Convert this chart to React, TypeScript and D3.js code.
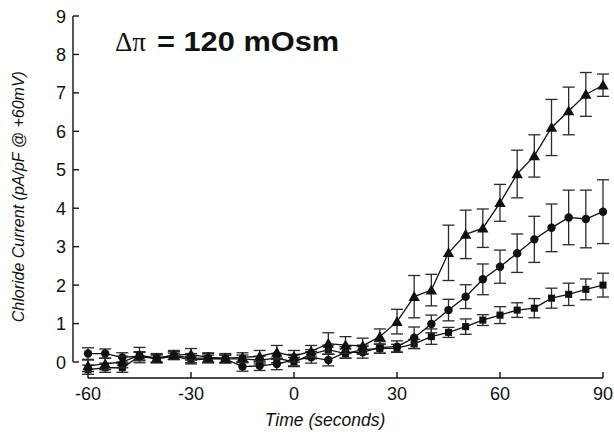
import React from "react";
import * as d3 from "d3";

// Sampling times (s), one recording every 5 s
const times = [
  -60, -55, -50, -45, -40, -35, -30, -25, -20, -15, -10, -5, 0, 5, 10, 15, 20, 25,
  30, 35, 40, 45, 50, 55, 60, 65, 70, 75, 80, 85, 90,
];

// Triangle series: mean and SEM
const triMean = [
  -0.1, -0.05, 0.0, 0.18, 0.1, 0.18, 0.2, 0.12, 0.1, 0.12, 0.15, 0.25, 0.15, 0.28, 0.48,
  0.44, 0.42, 0.66, 1.05, 1.7, 1.87, 2.84, 3.32, 3.48, 4.14, 4.89, 5.36, 6.1, 6.53, 6.96, 7.2,
];
const triErr = [
  0.15, 0.15, 0.15, 0.2, 0.12, 0.12, 0.15, 0.12, 0.12, 0.12, 0.15, 0.18, 0.15, 0.15, 0.28,
  0.22, 0.2, 0.2, 0.32, 0.55, 0.41, 0.72, 0.63, 0.5, 0.48, 0.62, 0.55, 0.73, 0.62, 0.57, 0.29,
];

// Circle series: mean and SEM
const cirMean = [
  0.22, 0.22, 0.12, 0.15, 0.1, 0.17, 0.1, 0.1, 0.08, -0.12, -0.1, -0.05, 0.05, 0.12, 0.05,
  0.25, 0.25, 0.38, 0.4, 0.63, 0.99, 1.35, 1.7, 2.15, 2.48, 2.83, 3.19, 3.49, 3.76, 3.72, 3.91,
];
const cirErr = [
  0.15, 0.12, 0.12, 0.12, 0.1, 0.1, 0.12, 0.12, 0.1, 0.12, 0.12, 0.15, 0.15, 0.15, 0.15,
  0.15, 0.15, 0.15, 0.15, 0.28, 0.23, 0.28, 0.31, 0.4, 0.43, 0.5, 0.6, 0.62, 0.71, 0.75, 0.83,
];

// Square series: mean and SEM
const sqMean = [
  -0.2, -0.15, -0.15, 0.15, 0.08, 0.15, 0.05, 0.08, 0.08, 0.08, 0.05, 0.1, 0.0, 0.2, 0.32,
  0.22, 0.32, 0.35, 0.36, 0.47, 0.66, 0.77, 0.92, 1.09, 1.22, 1.35, 1.4, 1.66, 1.76, 1.89, 2.0,
];
const sqErr = [
  0.12, 0.12, 0.12, 0.1, 0.1, 0.08, 0.1, 0.1, 0.1, 0.1, 0.1, 0.12, 0.12, 0.12, 0.12, 0.12,
  0.12, 0.12, 0.1, 0.12, 0.2, 0.13, 0.2, 0.14, 0.22, 0.19, 0.25, 0.26, 0.29, 0.27, 0.31,
];

const xTicks = [-60, -30, 0, 30, 60, 90];
const yTicks = [0, 1, 2, 3, 4, 5, 6, 7, 8, 9];

const W = 614;
const H = 436;
const sans = "'Liberation Sans', Arial, Helvetica, sans-serif";

const x = d3.scaleLinear().domain([-60, 90]).range([88, 603]);
const y = d3.scaleLinear().domain([0, 9]).range([362, 16]);

type Shape = "tri" | "cir" | "sq";

const series: { shape: Shape; mean: number[]; err: number[] }[] = [
  { shape: "sq", mean: sqMean, err: sqErr },
  { shape: "cir", mean: cirMean, err: cirErr },
  { shape: "tri", mean: triMean, err: triErr },
];

const symbolFor: Record<Shape, d3.SymbolType> = {
  tri: d3.symbolTriangle,
  cir: d3.symbolCircle,
  sq: d3.symbolSquare,
};
const sizeFor: Record<Shape, number> = { tri: 56, cir: 56, sq: 50 };

function Series({ shape, mean, err }: { shape: Shape; mean: number[]; err: number[] }) {
  const line = d3
    .line<number>()
    .x((_, i) => x(times[i]))
    .y((v) => y(v));
  const sym = d3.symbol().type(symbolFor[shape]).size(sizeFor[shape])() || "";
  const cap = 6;
  return (
    <g>
      {mean.map((v, i) => {
        const cx = x(times[i]);
        const top = y(v + err[i]);
        const bot = y(v - err[i]);
        return (
          <g key={i} stroke="#2a2a2a" strokeWidth={1.3}>
            <line x1={cx} x2={cx} y1={top} y2={bot} />
            <line x1={cx - cap} x2={cx + cap} y1={top} y2={top} />
            <line x1={cx - cap} x2={cx + cap} y1={bot} y2={bot} />
          </g>
        );
      })}
      <path d={line(mean) || ""} fill="none" stroke="#111" strokeWidth={1.3} />
      {mean.map((v, i) => (
        <path
          key={i}
          d={sym}
          transform={`translate(${x(times[i])},${y(v) + (shape === "tri" ? 1 : 0)})`}
          fill="#111"
        />
      ))}
    </g>
  );
}

export default function App() {
  const axisY = 378;
  const axisX = 73;
  return (
    <svg
      width={W}
      height={H}
      style={{ position: "absolute", left: 0, top: 0, background: "#fff" }}
      fontFamily={sans}
    >
      <rect width={W} height={H} fill="#fff" />

      {/* y axis */}
      <line x1={axisX} x2={axisX} y1={y(9)} y2={y(0)} stroke="#111" strokeWidth={1.4} />
      {yTicks.map((t) => (
        <g key={t}>
          <line x1={axisX} x2={axisX + 6} y1={y(t)} y2={y(t)} stroke="#111" strokeWidth={1.4} />
          <text x={66} y={y(t) + 6.5} fontSize={18} textAnchor="end" fill="#111">
            {t}
          </text>
        </g>
      ))}

      {/* x axis */}
      <line x1={x(-60)} x2={x(90)} y1={axisY} y2={axisY} stroke="#111" strokeWidth={1.4} />
      {xTicks.map((t) => (
        <g key={t}>
          <line x1={x(t)} x2={x(t)} y1={axisY} y2={axisY - 6} stroke="#111" strokeWidth={1.4} />
          <text x={x(t)} y={400} fontSize={18} textAnchor="middle" fill="#111">
            {t < 0 ? `-${-t}` : t}
          </text>
        </g>
      ))}

      <text x={325} y={426} fontSize={17.5} fontStyle="italic" textAnchor="middle" fill="#111">
        Time (seconds)
      </text>
      <text
        transform={`translate(24,${y(4.3)}) rotate(-90)`}
        fontSize={16}
        fontStyle="italic"
        textAnchor="middle"
        fill="#111"
      >
        Chloride Current (pA/pF @ +60mV)
      </text>

      <text x={115} y={51} fontSize={27} fill="#111">
        <tspan fontFamily="'Liberation Serif', 'Times New Roman', serif">Δπ</tspan>
      </text>
      <text
        transform="translate(157,51) scale(1.14,1)"
        fontSize={27}
        fontWeight="bold"
        fill="#111"
      >
        = 120 mOsm
      </text>

      {series.map((s) => (
        <Series key={s.shape} {...s} />
      ))}
    </svg>
  );
}
